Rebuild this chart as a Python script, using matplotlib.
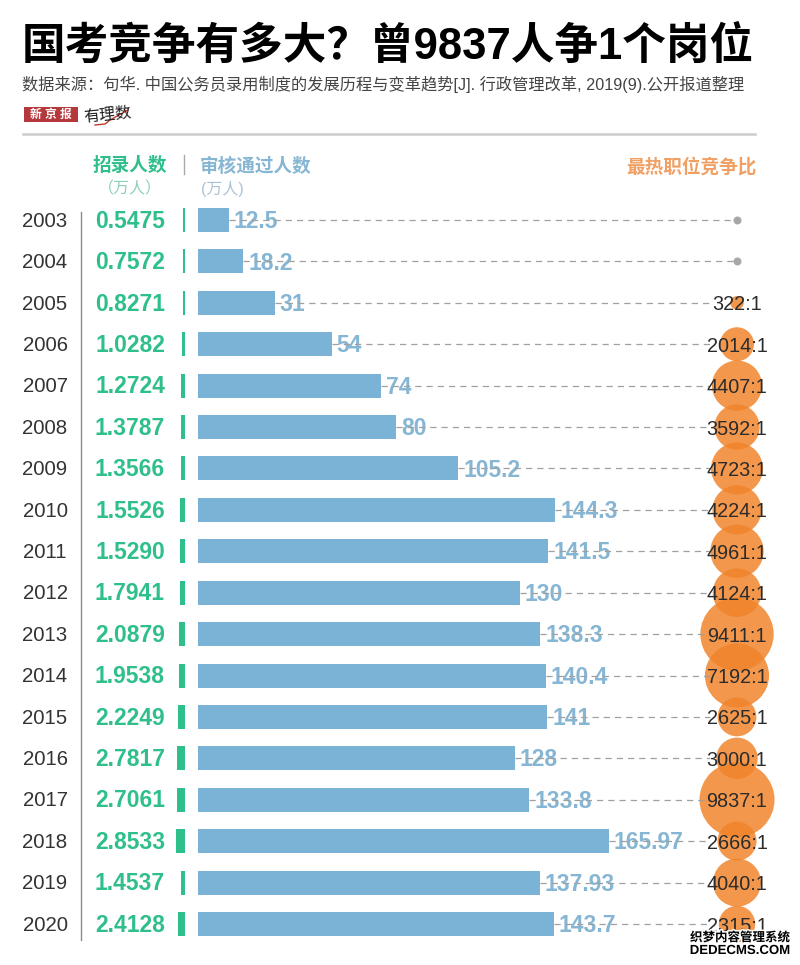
import matplotlib
matplotlib.use('Agg')
import matplotlib.pyplot as plt
import matplotlib.patheffects as pe
from matplotlib.lines import Line2D
from matplotlib.patches import Rectangle

plt.rcParams['font.family'] = ['Liberation Sans', 'Noto Sans CJK SC', 'DejaVu Sans']

# data
years = [2003, 2004, 2005, 2006, 2007, 2008, 2009, 2010, 2011, 2012, 2013, 2014, 2015, 2016, 2017, 2018, 2019, 2020]
recruits = ['0.5475', '0.7572', '0.8271', '1.0282', '1.2724', '1.3787', '1.3566', '1.5526', '1.5290',
            '1.7941', '2.0879', '1.9538', '2.2249', '2.7817', '2.7061', '2.8533', '1.4537', '2.4128']
passed = ['12.5', '18.2', '31', '54', '74', '80', '105.2', '144.3', '141.5',
          '130', '138.3', '140.4', '141', '128', '133.8', '165.97', '137.93', '143.7']
ratios = [None, None, 322, 2014, 4407, 3592, 4723, 4224, 4961,
          4124, 9411, 7192, 2625, 3000, 9837, 2666, 4040, 2315]

W, H = 800, 965
GREEN = '#2FBF8B'
BLUE = '#7BB3D6'
BLUE_TXT = '#86B6D3'
ORANGE = '#F0852C'
GREY = '#A0A0A0'

# layout of the chart in pixels
X0 = 198
PX_PER_UNIT = 2.476
ROW0 = 220
ROW_STEP = 41.41

fig = plt.figure(figsize=(W / 100, H / 100), dpi=100)
ax = fig.add_axes([0, 0, 1, 1])
ax.set_xlim(-X0 / PX_PER_UNIT, (W - X0) / PX_PER_UNIT)
ax.set_ylim((H - ROW0) / ROW_STEP, -ROW0 / ROW_STEP)
ax.axis('off')


def px(x):
    return (x - X0) / PX_PER_UNIT


def ftext(x, y, s, **kw):
    return fig.text(x / W, 1 - y / H, s, **kw)


def fline(xs, ys, **kw):
    fig.add_artist(Line2D([x / W for x in xs], [1 - y / H for y in ys], **kw))


rows = list(range(len(years)))
values = [float(v) for v in passed]
bar_h = 24 / ROW_STEP

# bars
ax.barh(rows, values, height=bar_h, color=BLUE, zorder=2)

# green ticks, width follows the recruit number
tick_w = [float(v) * 3.0 / PX_PER_UNIT for v in recruits]
ax.barh(rows, [-w for w in tick_w], left=px(185), height=bar_h, color=GREEN, zorder=2)

# bubbles
has_ratio = [i for i in rows if ratios[i] is not None]
no_ratio = [i for i in rows if ratios[i] is None]
bubble_k = (75 * 0.72) ** 2 / 9837
ax.scatter([px(737)] * len(has_ratio), has_ratio, s=[ratios[i] * bubble_k for i in has_ratio],
           color=ORANGE, alpha=0.85, linewidths=0, zorder=3)
ax.scatter([px(737)] * len(no_ratio), no_ratio, s=(8 * 0.72) ** 2, color='#A8A8A8', linewidths=0, zorder=3)

for i in rows:
    ax.text(px(45), i + 0.03, str(years[i]), ha='center', va='center', fontsize=14.7, color='#333333', zorder=5)
    ax.text(px(130), i + 0.03, recruits[i], ha='center', va='center', fontsize=16.5, fontweight='bold',
            color=GREEN, zorder=5)
    ax.text(values[i] + 5 / PX_PER_UNIT, i + 0.04, passed[i], ha='left', va='center', fontsize=16.5,
            fontweight='bold', color=BLUE_TXT, zorder=4)
    # dashed leader runs through the label
    end = px(710) if ratios[i] is not None else px(737)
    ax.plot([values[i], end], [i, i], color=GREY, lw=0.9, dashes=(5, 4), zorder=5)
    if ratios[i] is not None:
        ax.text(px(737), i + 0.05, f'{ratios[i]}:1', ha='center', va='center', fontsize=14.3,
                color='#2B2B2B', zorder=6)

# year axis line
fline([81, 81], [212, 940], color='#8C8C8C', lw=1)

# title block
ftext(22, 48, '国考竞争有多大？曾9837人争1个岗位', fontsize=31.4, fontweight='bold', color='black',
      ha='left', va='center')
ftext(22, 84, '数据来源：句华. 中国公务员录用制度的发展历程与变革趋势[J]. 行政管理改革, 2019(9).公开报道整理',
      fontsize=11.7, color='#444444', ha='left', va='center')
fline([23, 755], [134, 134], color='#CCCCCC', lw=1.8)

# logo
fig.add_artist(Rectangle((24 / W, 1 - 122 / H), 54 / W, 15 / H, transform=fig.transFigure,
                         color='#B5383C', lw=0))
ftext(51, 115, '新 京 报', fontsize=8.5, fontweight='bold', color='white', ha='center', va='center')
ftext(83, 115, '有理数', fontsize=11.5, color='#222222', ha='left', va='center', rotation=6)
fline([95, 105, 110, 128], [125, 124, 120, 110], color='#C0392B', lw=1)

# column headers
ftext(130, 166, '招录人数', fontsize=13.4, fontweight='bold', color=GREEN, ha='center', va='center')
ftext(130, 189, '（万人）', fontsize=11.5, color='#8FCFB5', ha='center', va='center')
fline([184, 184], [155, 174], color='#AAAAAA', lw=1)
ftext(200, 167, '审核通过人数', fontsize=13.4, fontweight='bold', color=BLUE_TXT, ha='left', va='center')
ftext(201, 189, '(万人)', fontsize=11.5, color='#A9C4D6', ha='left', va='center')
ftext(757, 167, '最热职位竞争比', fontsize=13.4, fontweight='bold', color='#F0A062', ha='right', va='center')

# watermark in the corner of the picture
halo = [pe.withStroke(linewidth=2.2, foreground='white')]
ftext(740, 938, '织梦内容管理系统', fontsize=9, fontweight='bold', color='black', ha='center', va='center',
      path_effects=halo, zorder=10)
ftext(740, 951, 'DEDECMS.COM', fontsize=9.5, fontweight='bold', color='black', ha='center', va='center',
      path_effects=halo, zorder=10)

fig.savefig('out.png', dpi=100)
